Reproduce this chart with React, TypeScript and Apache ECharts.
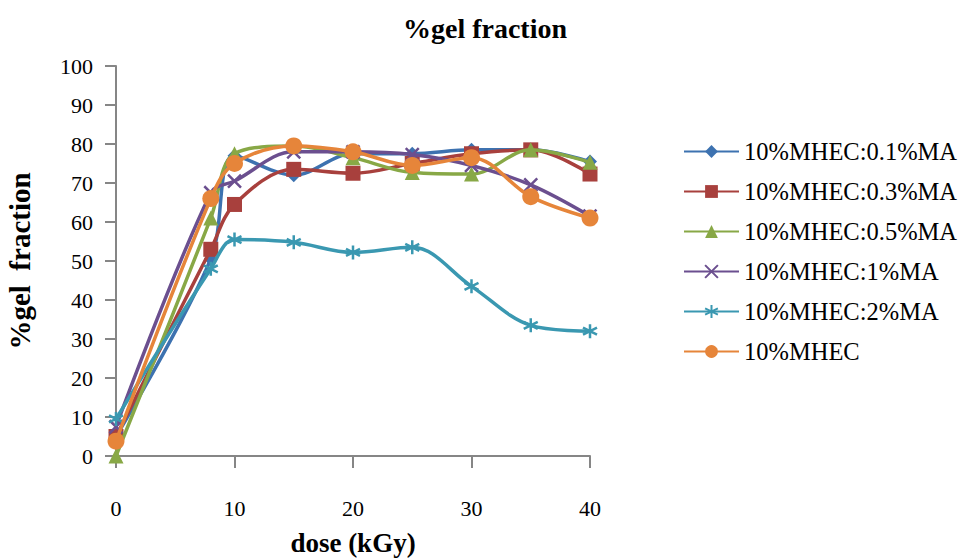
import React, { useEffect, useRef } from "react";
import * as echarts from "echarts";

const dose = [0, 8, 10, 15, 20, 25, 30, 35, 40];
const seriesNames = [
  "10%MHEC:0.1%MA",
  "10%MHEC:0.3%MA",
  "10%MHEC:0.5%MA",
  "10%MHEC:1%MA",
  "10%MHEC:2%MA",
  "10%MHEC",
];
const ma01 = [5, 50.5, 77, 72, 77.5, 77.5, 78.5, 78.5, 75.5];
const ma03 = [5, 53, 64.5, 73.5, 72.5, 75, 77.5, 78.5, 72.3];
const ma05 = [0, 61, 77.5, 79.5, 76.5, 72.7, 72.3, 78.5, 75.3];
const ma1 = [7.5, 67.5, 70.5, 78, 78, 77.3, 74.5, 69.5, 61.5];
const ma2 = [9.5, 48, 55.5, 54.8, 52.2, 53.5, 43.5, 33.5, 32];
const mhec = [3.8, 66, 75, 79.5, 78, 74.5, 76.5, 66.5, 61];

const colors = ["#3d72b0", "#a8403d", "#88a846", "#6b4f8f", "#3a98b1", "#e6853a"];
const symbols = [
  "diamond",
  "rect",
  "triangle",
  "path://M0,0L10,10M10,0L0,10",
  "path://M5,0L5,10M0.7,2.5L9.3,7.5M0.7,7.5L9.3,2.5",
  "circle",
];
const sizes = [14, 15, 15, 13, 14, 17];

export default function App() {
  const ref = useRef<HTMLDivElement>(null);
  useEffect(() => {
    if (!ref.current) return;
    const chart = echarts.init(ref.current, null, { renderer: "svg" });
    const allData = [ma01, ma03, ma05, ma1, ma2, mhec];
    const font = "'Liberation Serif', 'Times New Roman', serif";
    const axisColor = "#868686";
    chart.setOption({
      animation: false,
      textStyle: { fontFamily: font },
      title: {
        text: "%gel fraction",
        left: 480,
        top: 9,
        textAlign: "center",
        textStyle: { fontFamily: font, fontSize: 28, fontWeight: "bold", color: "#000" },
      },
      grid: {
        left: 116,
        right: 369,
        top: 66,
        bottom: 103,
        containLabel: false,
        outerBoundsMode: "none",
      },
      legend: {
        orient: "vertical",
        left: 678,
        top: 134,
        itemWidth: 55,
        itemHeight: 16,
        itemGap: 15,
        textStyle: { fontFamily: font, fontSize: 24.5, color: "#000" },
        data: seriesNames,
      },
      xAxis: {
        type: "value",
        min: 0,
        max: 40,
        interval: 10,
        name: "dose (kGy)",
        nameLocation: "middle",
        nameGap: 73,
        nameTextStyle: { fontFamily: font, fontSize: 27, fontWeight: "bold", color: "#000" },
        axisLine: { lineStyle: { color: axisColor, width: 2 } },
        axisTick: { show: true, length: 12, lineStyle: { color: axisColor, width: 2 } },
        axisLabel: { margin: 41, fontFamily: font, fontSize: 22, color: "#000" },
        splitLine: { show: false },
      },
      yAxis: {
        type: "value",
        min: 0,
        max: 100,
        interval: 10,
        name: "%gel  fraction",
        nameLocation: "middle",
        nameGap: 82,
        nameTextStyle: { fontFamily: font, fontSize: 29, fontWeight: "bold", color: "#000" },
        axisLine: { show: true, lineStyle: { color: axisColor, width: 2 } },
        axisTick: { show: true, length: 11, lineStyle: { color: axisColor, width: 2 } },
        axisLabel: { margin: 23, fontFamily: font, fontSize: 22, color: "#000" },
        splitLine: { show: false },
      },
      series: seriesNames.map((name, i) => ({
        name,
        type: "line",
        smooth: 0.35,
        data: dose.map((d, j) => [d, allData[i][j]]),
        symbol: symbols[i],
        symbolSize: sizes[i],
        color: colors[i],
        lineStyle: { width: 3.5, color: colors[i] },
        itemStyle:
          i === 3 || i === 4
            ? { color: colors[i], borderColor: colors[i], borderWidth: 2.5 }
            : { color: colors[i] },
        z: 2 + i,
      })),
    });
    return () => chart.dispose();
  }, []);
  return (
    <div
      ref={ref}
      style={{ position: "absolute", left: 0, top: 0, width: 959, height: 559 }}
    />
  );
}
